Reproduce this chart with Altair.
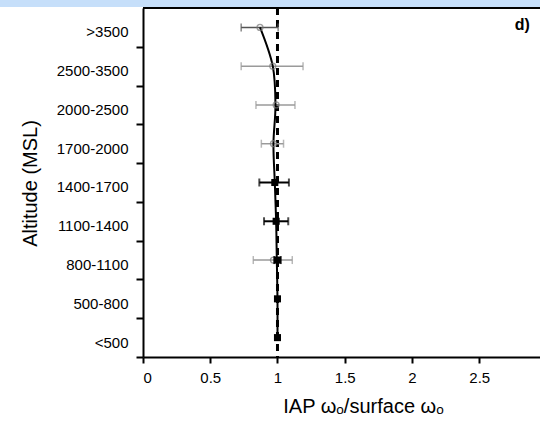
import altair as alt
import pandas as pd

# ---- data ----
categories = ["<500", "500-800", "800-1100", "1100-1400", "1400-1700",
              "1700-2000", "2000-2500", "2500-3500", ">3500"]
curve_ratio = [1.0, 1.0, 0.995, 0.99, 0.98, 0.97, 0.985, 0.965, 0.87]

grey_cats = [">3500", "2500-3500", "2000-2500", "1700-2000", "800-1100"]
grey_mean = [0.87, 0.965, 0.99, 0.97, 0.97]
grey_lo = [0.73, 0.73, 0.84, 0.88, 0.82]
grey_hi = [1.005, 1.19, 1.13, 1.045, 1.11]
grey_group = ["top", "rest", "rest", "rest", "rest"]

black_cats = ["1400-1700", "1100-1400", "800-1100", "500-800", "<500"]
black_mean = [0.98, 0.99, 1.0, 1.0, 1.0]
black_bar_cats = ["1400-1700", "1100-1400", "800-1100"]
black_lo = [0.865, 0.90, 0.975]
black_hi = [1.085, 1.08, 1.025]

ref_value = [1.0]
top_edge = [9]
panel_label = ["d)"]
panel_label_x = [2.82]
panel_label_y = [8.56]
x_ticks = [0, 0.5, 1, 1.5, 2, 2.5]
y_boundaries = list(range(9))


def pos(c):
    return categories.index(c) + 0.5


curve_df = pd.DataFrame({"cat": categories,
                         "pos": [pos(c) for c in categories],
                         "ratio": curve_ratio})
grey_df = pd.DataFrame({"cat": grey_cats, "pos": [pos(c) for c in grey_cats],
                        "mean": grey_mean, "lo": grey_lo, "hi": grey_hi,
                        "group": grey_group})
black_df = pd.DataFrame({"cat": black_cats, "pos": [pos(c) for c in black_cats],
                         "mean": black_mean})
black_bar_df = pd.DataFrame({"cat": black_bar_cats,
                             "pos": [pos(c) for c in black_bar_cats],
                             "lo": black_lo, "hi": black_hi})
ref_df = pd.DataFrame({"x": ref_value})
top_df = pd.DataFrame({"y": top_edge})
label_df = pd.DataFrame({"t": panel_label, "x": panel_label_x, "y": panel_label_y})

label_js = "[" + ",".join("'" + c + "'" for c in categories) + "][datum.value]"

xscale = alt.Scale(domain=[0, 2.952], nice=False, zero=True)
yscale = alt.Scale(domain=[0, 9], nice=False, zero=True)

x_axis = alt.Axis(values=x_ticks, title="IAP ωₒ/surface ωₒ", labelExpr="datum.value + ''",
                  grid=False, tickSize=6, labelPadding=7, labelFontSize=15,
                  titleFontSize=20, titleFontWeight="normal", titleX=220, titleY=55,
                  titleBaseline="alphabetic", titleAlign="center")
y_axis = alt.Axis(values=y_boundaries, labelExpr=label_js, title="Altitude (MSL)",
                  grid=False, tickSize=7, labelPadding=8, labelFontSize=15,
                  labelOffset=-15, titleFontSize=20, titleFontWeight="normal",
                  titleX=-113, titleY=175, titleAngle=-90, titleBaseline="middle",
                  titleAlign="center")

group_color = alt.Color("group:N", scale=alt.Scale(domain=["top", "rest"],
                                                    range=["#555555", "#9a9a9a"]),
                        legend=None)

band = alt.Chart(ref_df).mark_rect(color="#c6dffa").encode(
    x=alt.value(-143), x2=alt.value(397), y=alt.value(-8), y2=alt.value(-1))

top_rule = alt.Chart(top_df).mark_rule(color="black", strokeWidth=2).encode(
    y=alt.Y("y:Q", scale=yscale))

ref_rule = alt.Chart(ref_df).mark_rule(color="black", strokeWidth=3,
                                       strokeDash=[7, 5]).encode(
    x=alt.X("x:Q", scale=xscale, axis=x_axis))

grey_bars = alt.Chart(grey_df).mark_rule(strokeWidth=1.5).encode(
    x=alt.X("lo:Q", scale=xscale), x2="hi:Q",
    y=alt.Y("pos:Q", scale=yscale, axis=y_axis), color=group_color)
grey_cap_lo = alt.Chart(grey_df).mark_tick(orient="vertical", size=8, thickness=1.5).encode(
    x=alt.X("lo:Q", scale=xscale), y=alt.Y("pos:Q", scale=yscale), color=group_color)
grey_cap_hi = alt.Chart(grey_df).mark_tick(orient="vertical", size=8, thickness=1.5).encode(
    x=alt.X("hi:Q", scale=xscale), y=alt.Y("pos:Q", scale=yscale), color=group_color)

curve = alt.Chart(curve_df).mark_line(color="black", strokeWidth=2,
                                      interpolate="catmull-rom").encode(
    x=alt.X("ratio:Q", scale=xscale), y=alt.Y("pos:Q", scale=yscale),
    order="pos:Q")

grey_pts = alt.Chart(grey_df).mark_point(shape="circle", filled=False, size=35,
                                         strokeWidth=1.3, color="#777777").encode(
    x=alt.X("mean:Q", scale=xscale), y=alt.Y("pos:Q", scale=yscale))

black_bars = alt.Chart(black_bar_df).mark_rule(strokeWidth=2, color="black").encode(
    x=alt.X("lo:Q", scale=xscale), x2="hi:Q", y=alt.Y("pos:Q", scale=yscale))
black_cap_lo = alt.Chart(black_bar_df).mark_tick(orient="vertical", size=8, thickness=2,
                                                 color="black").encode(
    x=alt.X("lo:Q", scale=xscale), y=alt.Y("pos:Q", scale=yscale))
black_cap_hi = alt.Chart(black_bar_df).mark_tick(orient="vertical", size=8, thickness=2,
                                                 color="black").encode(
    x=alt.X("hi:Q", scale=xscale), y=alt.Y("pos:Q", scale=yscale))

black_pts = alt.Chart(black_df).mark_point(shape="square", filled=True, size=50,
                                           color="black", opacity=1).encode(
    x=alt.X("mean:Q", scale=xscale), y=alt.Y("pos:Q", scale=yscale))

panel_text = alt.Chart(label_df).mark_text(fontSize=16, fontWeight="bold",
                                           color="black", font="Liberation Sans").encode(
    x=alt.X("x:Q", scale=xscale), y=alt.Y("y:Q", scale=yscale), text="t:N")

chart = alt.layer(
    ref_rule, top_rule, grey_bars, grey_cap_lo, grey_cap_hi, curve, grey_pts,
    black_bars, black_cap_lo, black_cap_hi, black_pts, panel_text, band
).properties(
    width=397, height=349,
    autosize=alt.AutoSizeParams(type="none"),
    padding={"left": 143, "top": 8, "right": 0, "bottom": 64},
    background="white",
).configure_view(
    strokeWidth=0
).configure_axis(
    domainColor="black", domainWidth=2, tickColor="black", tickWidth=2,
    labelColor="black", titleColor="black", labelFont="Liberation Sans",
    titleFont="Liberation Sans"
)

chart.save("out.html", embed_options={"renderer": "svg", "actions": False})
